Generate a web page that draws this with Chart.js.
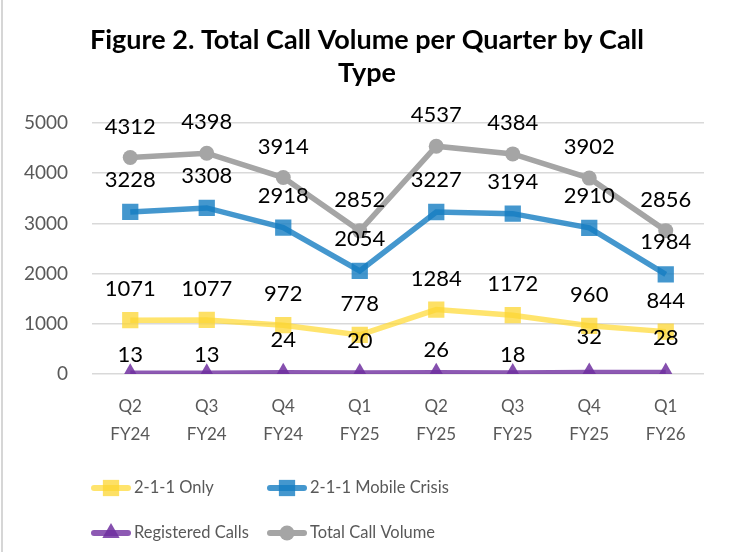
<!DOCTYPE html>
<html>
<head>
<meta charset="utf-8">
<script src="https://cdn.jsdelivr.net/npm/chart.js@4.4.1/dist/chart.umd.min.js"></script>
<style>
    html, body { margin: 0; padding: 0; background: #fff; }
    #wrap { position: relative; width: 732px; height: 552px; }
    #edge { position: absolute; left: 1px; top: 0; width: 2px; height: 552px; background: #d6d6d6; }
</style>
</head>
<body>
<div id="wrap">
    <canvas id="myChart" width="732" height="552"></canvas>
    <div id="edge"></div>
</div>
<script>
// values
const quarters = [["Q2", "FY24"], ["Q3", "FY24"], ["Q4", "FY24"], ["Q1", "FY25"],
                  ["Q2", "FY25"], ["Q3", "FY25"], ["Q4", "FY25"], ["Q1", "FY26"]];
const only211 = [1071, 1077, 972, 778, 1284, 1172, 960, 844];
const mobileCrisis = [3228, 3308, 2918, 2054, 3227, 3194, 2910, 1984];
const registeredCalls = [13, 13, 24, 20, 26, 18, 32, 28];
const totalVolume = [4312, 4398, 3914, 2852, 4537, 4384, 3902, 2856];
const yTicks = [0, 1000, 2000, 3000, 4000, 5000];
const titleLines = ["Figure 2. Total Call Volume per Quarter by Call", "Type"];

const FONT = "Lato, 'Noto Sans', sans-serif";

// how far above each point its value sits
const labelLift = {
    only: 31,
    mobile: 32,
    registered: [18, 18, 33, 32, 23, 18, 35, 35],
    total: 31
};

const valueLabels = {
    id: 'valueLabels',
    afterDatasetsDraw(chart) {
        let ctx = chart.ctx;
        ctx.save();
        ctx.font = "22px " + FONT;
        ctx.fillStyle = "#000";
        ctx.textAlign = "center";
        ctx.textBaseline = "middle";
        chart.data.datasets.forEach(function (ds, i) {
            let meta = chart.getDatasetMeta(i);
            meta.data.forEach(function (pt, j) {
                let lift = Array.isArray(ds.lift) ? ds.lift[j] : ds.lift;
                ctx.fillText(String(ds.data[j]), pt.x, pt.y - lift);
            });
        });
        ctx.restore();
    }
};

// title centred on the whole canvas, like the original
const pageTitle = {
    id: 'pageTitle',
    afterDraw(chart) {
        let ctx = chart.ctx;
        ctx.save();
        ctx.font = "bold 27px " + FONT;
        ctx.fillStyle = "#000";
        ctx.textAlign = "center";
        ctx.textBaseline = "middle";
        titleLines.forEach(function (t, i) {
            ctx.fillText(t, chart.width / 2 + 1, 40 + i * 33);
        });
        ctx.restore();
    }
};

const lineLegend = {
    id: 'lineLegend',
    afterDraw(chart) {
        let ctx = chart.ctx;
        let area = chart.chartArea;
        let cols = [area.left - 1, area.left + 175];
        let rows = [area.bottom + 114, area.bottom + 159];
        ctx.save();
        ctx.font = "16.5px " + FONT;
        ctx.textBaseline = "middle";
        ctx.textAlign = "left";
        chart.data.datasets.forEach(function (ds, i) {
            let x = cols[i % 2];
            let y = rows[Math.floor(i / 2)];
            ctx.strokeStyle = ds.borderColor;
            ctx.lineWidth = 6;
            ctx.lineCap = "round";
            ctx.beginPath();
            ctx.moveTo(x + 3, y);
            ctx.lineTo(x + 37, y);
            ctx.stroke();
            ctx.fillStyle = ds.pointBackgroundColor;
            Chart.helpers.drawPoint(ctx, {
                pointStyle: ds.pointStyle,
                radius: ds.pointRadius,
                rotation: 0,
                borderWidth: 0
            }, x + 20, y);
            ctx.fillStyle = "#595959";
            ctx.fillText(ds.label, x + 43, y);
        });
        ctx.restore();
    }
};

var data = {
    labels: quarters,
    datasets: [{
        label: "2-1-1 Only",
        data: only211,
        borderColor: "rgba(255,217,47,0.7)",
        pointBackgroundColor: "rgba(252,214,50,0.75)",
        pointStyle: "rect",
        pointRadius: 11.5,
        pointBorderWidth: 0,
        borderWidth: 5.5,
        lift: labelLift.only,
        order: 4
    }, {
        label: "2-1-1 Mobile Crisis",
        data: mobileCrisis,
        borderColor: "rgba(21,125,194,0.8)",
        pointBackgroundColor: "rgba(21,125,194,0.8)",
        pointStyle: "rect",
        pointRadius: 11.5,
        pointBorderWidth: 0,
        borderWidth: 5.5,
        lift: labelLift.mobile,
        order: 3
    }, {
        label: "Registered Calls",
        data: registeredCalls,
        borderColor: "rgba(112,48,160,0.8)",
        pointBackgroundColor: "rgba(112,48,160,0.85)",
        pointStyle: "triangle",
        pointRadius: 10,
        pointBorderWidth: 0,
        borderWidth: 5.5,
        lift: labelLift.registered,
        order: 2
    }, {
        label: "Total Call Volume",
        data: totalVolume,
        borderColor: "#a5a5a5",
        pointBackgroundColor: "#a5a5a5",
        pointStyle: "circle",
        pointRadius: 7.5,
        pointBorderWidth: 0,
        borderWidth: 5.5,
        lift: labelLift.total,
        order: 1
    }]
};

var options = {
    responsive: false,
    animation: false,
    layout: {
        padding: { left: 0, right: 28, top: 123, bottom: 98 }
    },
    plugins: {
        legend: { display: false },
        tooltip: { enabled: false },
        title: { display: false }
    },
    scales: {
        x: {
            offset: true,
            grid: { display: false, drawTicks: false },
            border: { display: false },
            ticks: {
                color: "#595959",
                font: { family: FONT, size: 17, lineHeight: "28px" },
                padding: 19,
                maxRotation: 0,
                autoSkip: false
            },
            afterFit: function (scale) { scale.height = 80; }
        },
        y: {
            min: 0,
            max: 5000,
            grid: { color: "#d9d9d9", lineWidth: 1.5, drawTicks: false },
            border: { display: false },
            ticks: {
                color: "#595959",
                font: { family: FONT, size: 19 },
                padding: 24,
                stepSize: 1000,
                callback: function (v) { return yTicks.includes(v) ? v : ""; }
            },
            afterFit: function (scale) { scale.width = 92; }
        }
    }
};

var ctx = document.getElementById('myChart').getContext('2d');
var myChart = new Chart(ctx, {
    type: 'line',
    data: data,
    options: options,
    plugins: [valueLabels, pageTitle, lineLegend]
});
</script>
</body>
</html>
